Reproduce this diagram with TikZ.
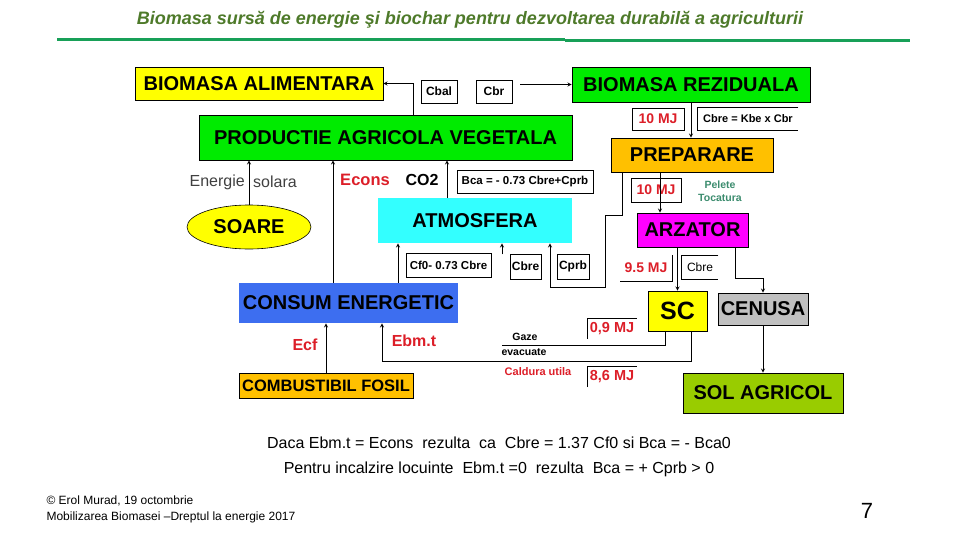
\documentclass[tikz,border=0pt]{standalone}
\usepackage{fontspec}
\setmainfont{Liberation Sans}
\usetikzlibrary{shapes.geometric}

\definecolor{titgreen}{RGB}{78,122,42}
\definecolor{rulegreen}{RGB}{24,160,88}
\definecolor{vgreen}{RGB}{0,235,0}
\definecolor{byellow}{RGB}{255,255,0}
\definecolor{borange}{RGB}{255,192,0}
\definecolor{bmagenta}{RGB}{255,0,255}
\definecolor{bcyan}{RGB}{51,255,255}
\definecolor{bblue}{RGB}{61,110,240}
\definecolor{bgray}{RGB}{192,192,192}
\definecolor{solgreen}{RGB}{153,204,0}
\definecolor{mjred}{RGB}{220,30,40}
\definecolor{peltext}{RGB}{60,140,110}

\tikzstyle{box} = [rectangle, inner sep=0pt, style={draw=black, line width=0.6pt}, font=\bfseries\fontsize{20}{22}\selectfont]
\tikzstyle{lbl} = [rectangle, inner sep=0pt, style={fill=white, draw=black, line width=0.6pt}, font=\bfseries\fontsize{12}{13}\selectfont]
\tikzstyle{mj} = [rectangle, inner sep=0pt, text=mjred, font=\bfseries\fontsize{14}{15}\selectfont]
\tikzstyle{fil} = [-stealth, style={line width=0.9pt}]

\begin{document}
\begin{tikzpicture}[x=1pt, y=-1pt]
\useasboundingbox (0,0) rectangle (960,540);

% Title
	\node[text=titgreen, font=\bfseries\itshape\fontsize{18}{20}\selectfont] at (470,20) (title) {Biomasa sursă de energie şi biochar pentru dezvoltarea durabilă a agriculturii};
	\draw[rulegreen, line width=3pt] (57,39.5) -- (565,39.5);
	\draw[rulegreen, line width=3pt] (565,41) -- (910,41);

% Biomass boxes
	\node[box, fill=byellow, minimum width=248pt, minimum height=33pt] at (259,83.5) (biomal) {BIOMASA ALIMENTARA};
	\node[lbl, minimum width=36pt, minimum height=23pt] at (439,91.5) (cbal) {Cbal};
	\node[lbl, minimum width=36pt, minimum height=23pt] at (494,91.5) (cbr) {Cbr};
	\node[box, fill=vgreen, minimum width=238pt, minimum height=35pt] at (691,84.5) (biomrez) {BIOMASA REZIDUALA};
	\node[box, fill=vgreen, minimum width=373pt, minimum height=45pt] at (385.5,137.5) (prod) {PRODUCTIE AGRICOLA VEGETALA};
	\coordinate (cbrend) at (520,84.5);

% Residue chain
	\node[mj, draw=black, line width=0.6pt, minimum width=52pt, minimum height=22pt] at (658,119) (mja) {10 MJ};
	\node[lbl, draw=none, font=\bfseries\fontsize{11}{12}\selectfont, minimum width=100pt, minimum height=22pt] at (748,119) (cbre) {Cbre = Kbe x Cbr};
	\node[box, fill=borange, minimum width=162pt, minimum height=34pt] at (692,155) (prep) {PREPARARE};
	\node[mj, draw=black, line width=0.6pt, minimum width=50pt, minimum height=24pt] at (656,190) (mjb) {10 MJ};
	\node[text=peltext, align=center, font=\bfseries\fontsize{10.5}{13}\selectfont] at (720,191.5) (pelete) {Pelete\\Tocatura};
	\node[box, fill=bmagenta, minimum width=111pt, minimum height=34pt] at (692.5,230) (arz) {ARZATOR};
	\node[mj, minimum width=52pt, minimum height=26pt] at (646,268) (mjc) {9.5 MJ};
	\node[lbl, draw=none, fill=none, font=\fontsize{12}{13}\selectfont, minimum width=36pt, minimum height=23pt] at (700,267.5) (cbrez) {Cbre};
	\node[box, fill=byellow, font=\bfseries\fontsize{25}{27}\selectfont, minimum width=59pt, minimum height=40pt] at (677.5,311) (sc) {SC};
	\node[box, fill=bgray, minimum width=90pt, minimum height=32pt] at (763,309) (cenusa) {CENUSA};
	\node[box, fill=solgreen, minimum width=160pt, minimum height=40pt] at (763,393) (sol) {SOL AGRICOL};
	\node[mj, font=\bfseries\fontsize{14.5}{15}\selectfont, minimum width=49pt, minimum height=21pt] at (612,328.5) (mjd) {0,9 MJ};
	\node[mj, font=\bfseries\fontsize{14.5}{15}\selectfont, minimum width=49pt, minimum height=21pt] at (612,376.5) (mje) {8,6 MJ};
	\node[font=\bfseries\fontsize{10.5}{11}\selectfont] at (525,337) (gaze) {Gaze};
	\node[font=\bfseries\fontsize{10.5}{11}\selectfont] at (524,352) (evac) {evacuate};
	\node[text=mjred, font=\bfseries\fontsize{11}{12}\selectfont] at (538,372) (caldura) {Caldura utila};
	\coordinate (gazeend) at (502,345);

% partial borders
	\draw[line width=0.6pt] (cbre.north east) -- (cbre.north west) -- (cbre.south west) -- (cbre.south east);
	\draw[line width=0.6pt] (cbrez.north east) -- (cbrez.north west) -- (cbrez.south west) -- (cbrez.south east);
	\draw[line width=0.6pt] (mjc.north east) -- (mjc.south east) -- (mjc.south west);
	\draw[line width=0.6pt] (mjd.south west) -- (mjd.north west) -- (mjd.north east);
	\draw[line width=0.6pt] (mje.south west) -- (mje.north west) -- (mje.north east);

% Sun, atmosphere, energy
	\node[anchor=east, inner sep=0pt, font=\fontsize{16}{18}\selectfont, text=black!75] at (245,182) (energie) {Energie};
	\node[anchor=west, inner sep=0pt, font=\fontsize{16}{18}\selectfont, text=black!75] at (253,182) (solara) {solara};
	\node[ellipse, fill=byellow, draw=black, line width=0.6pt, minimum width=124pt, minimum height=44pt, inner sep=0pt, font=\bfseries\fontsize{20}{22}\selectfont] at (249,227) (soare) {SOARE};
	\node[text=mjred, font=\bfseries\fontsize{16.5}{18}\selectfont] at (365,180) (econs) {Econs};
	\node[font=\bfseries\fontsize{16}{18}\selectfont] at (422,180) (co2) {CO2};
	\node[lbl, font=\bfseries\fontsize{11.5}{12}\selectfont, minimum width=136pt, minimum height=23pt] at (525,181.5) (bca) {Bca = - 0.73 Cbre+Cprb};
	\node[box, fill=bcyan, draw=none, minimum width=194pt, minimum height=45pt] at (475,220.5) (atm) {ATMOSFERA};
	\node[lbl, font=\bfseries\fontsize{11.5}{12}\selectfont, minimum width=85pt, minimum height=24pt] at (448.5,265) (cf0) {Cf0- 0.73 Cbre};
	\node[lbl, minimum width=31pt, minimum height=25pt] at (525.5,266.5) (cbrea) {Cbre};
	\node[lbl, minimum width=32pt, minimum height=25pt] at (573,266.5) (cprb) {Cprb};
	\node[box, fill=bblue, draw=none, minimum width=219pt, minimum height=40pt] at (348.5,303) (cons) {CONSUM ENERGETIC};
	\node[text=mjred, font=\bfseries\fontsize{16}{18}\selectfont] at (305,345) (ecf) {Ecf};
	\node[text=mjred, font=\bfseries\fontsize{16}{18}\selectfont] at (414,341) (ebmt) {Ebm.t};
	\node[box, fill=borange, font=\bfseries\fontsize{16.5}{18}\selectfont, minimum width=174pt, minimum height=25pt] at (326,385.5) (comb) {COMBUSTIBIL FOSIL};

% Connectors
	\draw[fil] ([xshift=27.5pt]prod.north) |- (biomal.east);
	\draw[fil] (cbrend) -- (biomrez.west);
	\draw[fil] (biomrez.south) -- (biomrez.south |- prep.north);
	\draw[fil] ([xshift=-32pt]prep.south) -- ([xshift=-32pt]prep.south |- arz.north);
	\draw[fil] ([xshift=-70pt]prep.south) -- ++(0,43) -| ++(-17,72) -| ([xshift=75pt]atm.south);
	\draw[fil] (arz.south -| sc.north) -- (sc.north);
	\draw[fil] ([xshift=42.5pt]arz.south) -- ++(0,31) -| (cenusa.north);
	\draw[fil] (cenusa.south) -- (sol.north);
	\draw[fil] (soare.north) -- (soare.north |- prod.south);
	\draw[fil] ([xshift=-15.5pt]cons.north) -- ([xshift=-15.5pt]cons.north |- prod.south);
	\draw[fil] ([xshift=49.5pt]cons.north) -- ([xshift=49.5pt]cons.north |- atm.south);
	\draw[fil] ([xshift=-28pt]atm.north) -- ([xshift=-28pt]atm.north |- prod.south);
	\draw[fil] ([xshift=27pt,yshift=-11pt]atm.south) -- ([xshift=27pt]atm.south);
	\draw[fil] (comb.north) -- (comb.north |- cons.south);
	\draw[line width=0.9pt] ([xshift=-12.5pt]sc.south) |- (gazeend);
	\draw[fil] ([xshift=13.5pt]sc.south) -- ++(0,30) -| ([xshift=33.5pt]cons.south);

% Notes
	\node[font=\fontsize{16}{18}\selectfont] at (499,443) (notea) {Daca Ebm.t = Econs\ \ rezulta\ \ ca\ \ Cbre = 1.37 Cf0 si Bca = - Bca0};
	\node[font=\fontsize{16}{18}\selectfont] at (499,469) (noteb) {Pentru incalzire locuinte\ \ Ebm.t =0\ \ rezulta\ \ Bca = + Cprb > 0};
	\node[anchor=west, align=left, font=\fontsize{12}{16}\selectfont] at (43,509) (footer) {© Erol Murad, 19 octombrie\\Mobilizarea Biomasei –Dreptul la energie 2017};
	\node[font=\fontsize{22}{24}\selectfont] at (867,511) (pagenr) {7};
\end{tikzpicture}
\end{document}
